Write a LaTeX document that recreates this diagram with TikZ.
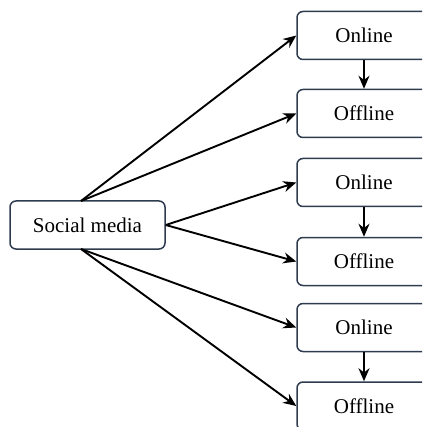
\documentclass[tikz,border=0pt]{standalone}
\usepackage{fontspec}
\setmainfont{Liberation Serif}
\usetikzlibrary{arrows.meta}
\definecolor{boxline}{RGB}{47,60,80}
\tikzset{
  box/.style={draw=boxline, line width=1.5pt, rounded corners=6pt,
    minimum width=134pt, minimum height=48pt, inner sep=0pt,
    font=\fontsize{21}{25}\selectfont},
  link/.style={line width=1.9pt, -{Stealth[length=13pt,width=11pt]}}
}
\begin{document}
\begin{tikzpicture}[x=1pt,y=-1pt]
 			\useasboundingbox (0,0) rectangle (422,427);
 			\clip (0,0) rectangle (422,427);
 			\node[box, minimum width=155pt] (media) at (87.5,225) {Social media};
 			\node[box] (online1) at (364,35.5) {Online};
 			\node[box] (offline1) at (364,113.5) {Offline};
 			\node[box] (online2) at (364,182.5) {Online};
 			\node[box] (offline2) at (364,261.5) {Offline};
 			\node[box] (online3) at (364,327.5) {Online};
 			\node[box] (offline3) at (364,406) {Offline};
 			\coordinate (mediatop) at (81,201);
 			\coordinate (mediabot) at (81,249);
 			\draw[link] (mediatop) -- (online1.west);
 			\draw[link] (mediatop) -- (offline1.west);
 			\draw[link] (media.east) -- (online2.west);
 			\draw[link] (media.east) -- (offline2.west);
 			\draw[link] (mediabot) -- (online3.west);
 			\draw[link] (mediabot) -- (offline3.west);
 			\draw[link] (online1) -- (offline1);
 			\draw[link] (online2) -- (offline2);
 			\draw[link] (online3) -- (offline3);
 		\end{tikzpicture}
\end{document}
